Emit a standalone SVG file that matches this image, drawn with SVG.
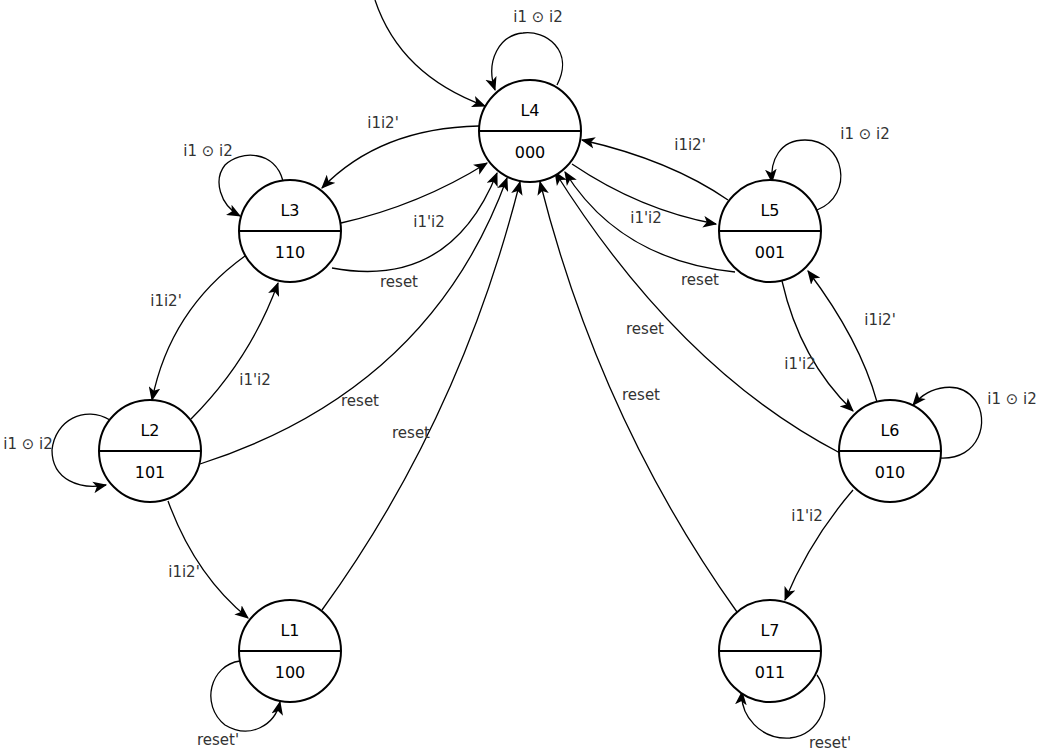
<svg xmlns="http://www.w3.org/2000/svg" width="1040" height="753" viewBox="0 0 1040 753">
<defs>
<marker id="a" viewBox="0 0 12 10" refX="11" refY="5" markerWidth="14" markerHeight="12" markerUnits="userSpaceOnUse" orient="auto"><path d="M0,0 L12,5 L0,10 L3,5 z" fill="#000"/></marker>
<style>
.n circle{fill:#fff;stroke:#000;stroke-width:2}
.n line{stroke:#000;stroke-width:2}
.n text{font-family:"DejaVu Sans",sans-serif;font-size:16px;text-anchor:middle;fill:#000}
#edges path{fill:none;stroke:#000;stroke-width:1.3;marker-end:url(#a)}
.l{font-family:"DejaVu Sans",sans-serif;font-size:15px;fill:#333;text-anchor:middle}
</style>
</defs>
<rect width="1040" height="753" fill="#fff"/>
<g id="edges">
<path d="M375,0 Q400,75 485,106"/>
<path d="M557,85 C575,50 545,30 523,33 C500,35 485,60 495,90"/>
<path d="M479,126 Q380,128 322,188"/>
<path d="M341,223 Q420,205 487,163"/>
<path d="M332,268 Q450,290 497,173"/>
<path d="M200,464 Q430,390 507,178"/>
<path d="M322,610 Q460,420 520,182"/>
<path d="M737,612 Q600,420 540,182"/>
<path d="M840,453 Q680,370 555,172"/>
<path d="M735,272 Q620,260 565,172"/>
<path d="M572,164 Q640,210 716,224"/>
<path d="M728,200 Q670,160 582,140"/>
<path d="M817,210 C855,195 845,140 805,140 C780,140 770,160 772,182"/>
<path d="M283,181 C275,150 240,150 225,165 C213,180 220,205 240,216"/>
<path d="M245,256 Q170,310 152,400"/>
<path d="M191,419 Q250,360 278,283"/>
<path d="M110,420 C85,405 55,420 52,450 C52,480 80,490 106,485"/>
<path d="M168,501 Q195,575 248,618"/>
<path d="M240,661 C210,665 200,705 225,725 C250,740 275,725 280,702"/>
<path d="M782,281 Q800,360 853,411"/>
<path d="M877,402 Q860,340 808,271"/>
<path d="M940,458 C980,460 990,420 975,400 C960,380 930,385 913,405"/>
<path d="M853,490 Q810,540 785,600"/>
<path d="M817,675 C835,700 820,735 790,738 C760,740 740,715 742,692"/>
</g>
<g id="labels">
<text class="l" x="538" y="22">i1 ⊙ i2</text>
<text class="l" x="383" y="128">i1i2'</text>
<text class="l" x="690" y="150">i1i2'</text>
<text class="l" x="865" y="139">i1 ⊙ i2</text>
<text class="l" x="208" y="156">i1 ⊙ i2</text>
<text class="l" x="429" y="227">i1'i2</text>
<text class="l" x="646" y="223">i1'i2</text>
<text class="l" x="399" y="287">reset</text>
<text class="l" x="700" y="285">reset</text>
<text class="l" x="166" y="306">i1i2'</text>
<text class="l" x="645" y="334">reset</text>
<text class="l" x="880" y="325">i1i2'</text>
<text class="l" x="255" y="385">i1'i2</text>
<text class="l" x="800" y="369">i1'i2</text>
<text class="l" x="641" y="400">reset</text>
<text class="l" x="360" y="406">reset</text>
<text class="l" x="1012" y="404">i1 ⊙ i2</text>
<text class="l" x="411" y="438">reset</text>
<text class="l" x="28" y="449">i1 ⊙ i2</text>
<text class="l" x="807" y="521">i1'i2</text>
<text class="l" x="184" y="577">i1i2'</text>
<text class="l" x="218" y="745">reset'</text>
<text class="l" x="830" y="748">reset'</text>
</g>
<g id="L4" class="n"><circle cx="530" cy="131" r="51"/><line x1="479" y1="131" x2="581" y2="131"/><text x="530" y="116">L4</text><text x="530" y="158">000</text></g>
<g id="L3" class="n"><circle cx="290" cy="231" r="51"/><line x1="239" y1="231" x2="341" y2="231"/><text x="290" y="216">L3</text><text x="290" y="258">110</text></g>
<g id="L5" class="n"><circle cx="770" cy="231" r="51"/><line x1="719" y1="231" x2="821" y2="231"/><text x="770" y="216">L5</text><text x="770" y="258">001</text></g>
<g id="L2" class="n"><circle cx="150" cy="451" r="51"/><line x1="99" y1="451" x2="201" y2="451"/><text x="150" y="436">L2</text><text x="150" y="478">101</text></g>
<g id="L6" class="n"><circle cx="890" cy="451" r="51"/><line x1="839" y1="451" x2="941" y2="451"/><text x="890" y="436">L6</text><text x="890" y="478">010</text></g>
<g id="L1" class="n"><circle cx="290" cy="651" r="51"/><line x1="239" y1="651" x2="341" y2="651"/><text x="290" y="636">L1</text><text x="290" y="678">100</text></g>
<g id="L7" class="n"><circle cx="770" cy="651" r="51"/><line x1="719" y1="651" x2="821" y2="651"/><text x="770" y="636">L7</text><text x="770" y="678">011</text></g>
</svg>
